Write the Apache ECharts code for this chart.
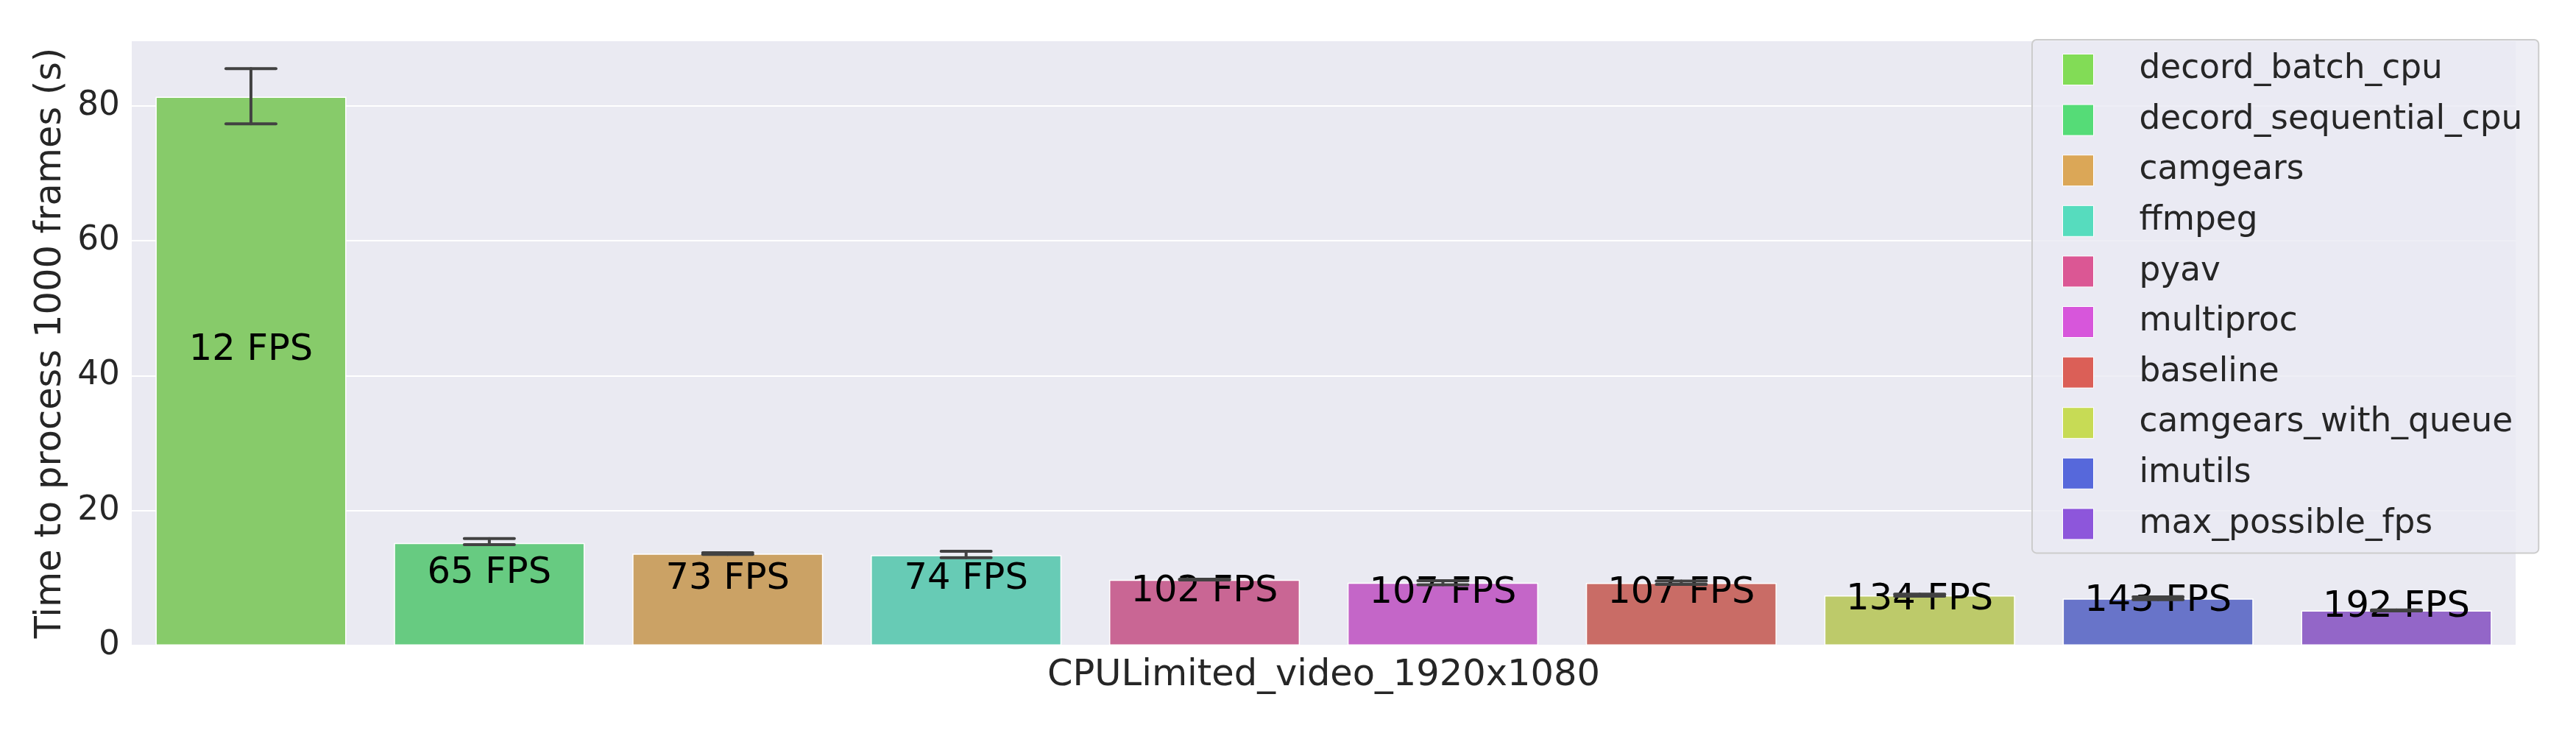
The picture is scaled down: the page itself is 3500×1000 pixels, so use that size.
<!DOCTYPE html>
<html>
<head>
<meta charset="utf-8">
<script src="https://cdn.jsdelivr.net/npm/echarts@6/dist/echarts.min.js"></script>
<style>
html,body{margin:0;padding:0;background:#fff;}
#chart{width:3500px;height:1000px;}
</style>
</head>
<body>
<div id="chart"></div>
<script>
// ---- data ----
const categories = ['decord_batch_cpu','decord_sequential_cpu','camgears','ffmpeg','pyav','multiproc','baseline','camgears_with_queue','imutils','max_possible_fps'];
const times   = [81.35, 15.2, 13.6, 13.4, 9.75, 9.3, 9.28, 7.43, 6.97, 5.19];
const errLow  = [77.35, 14.95, 13.5, 13.0, 9.7, 9.0, 9.05, 7.3, 6.8, 5.12];
const errHigh = [85.53, 15.85, 13.75, 13.96, 9.82, 9.6, 9.55, 7.6, 7.2, 5.26];
const fpsLabels = ['12 FPS','65 FPS','73 FPS','74 FPS','102 FPS','107 FPS','107 FPS','134 FPS','143 FPS','192 FPS'];
const yTicks = [0, 20, 40, 60, 80];
const xGroupLabel = 'CPULimited_video_1920x1080';
const yTitle = 'Time to process 1000 frames (s)';

const barColors = ['#87CB6A','#67CB81','#CBA265','#67CBB5','#C96694','#C466C8','#C96C66','#BDCA6A','#6874C9','#9366C8'];
const legendColors = ['#82DC56','#55DC77','#DBA757','#56DCBE','#DB5794','#D756DB','#DB5F57','#C7DB55','#5668DB','#8D56DB'];

const FONT = 'DejaVu Sans';
const chart = echarts.init(document.getElementById('chart'), null, {renderer:'canvas'});

const barSeries = categories.map((name, i) => ({
  name: name,
  type: 'bar',
  stack: 'all',
  barWidth: '80%',
  data: categories.map((c, j) => j === i ? times[j] : '-'),
  itemStyle: {color: barColors[i], borderColor: '#ffffff', borderWidth: 1.5},
  label: {
    show: true,
    position: 'inside',
    offset: [0, -28],
    formatter: () => fpsLabels[i],
    fontFamily: FONT,
    fontSize: 49.5,
    color: '#000000'
  },
  emphasis: {disabled: true},
  z: 2
}));

const errSeries = {
  type: 'custom',
  name: 'err',
  z: 5,
  data: categories.map((c, i) => [i, errLow[i], errHigh[i]]),
  renderItem: function (params, api) {
    const x = api.value(0);
    const lo = api.coord([x, api.value(1)]);
    const hi = api.coord([x, api.value(2)]);
    const half = api.size([1, 0])[0] * 0.105;
    const style = {stroke: '#424242', lineWidth: 4, lineCap: 'round'};
    return {
      type: 'group',
      children: [
        {type: 'line', shape: {x1: lo[0], y1: lo[1], x2: hi[0], y2: hi[1]}, style: style},
        {type: 'line', shape: {x1: lo[0]-half, y1: lo[1], x2: lo[0]+half, y2: lo[1]}, style: style},
        {type: 'line', shape: {x1: hi[0]-half, y1: hi[1], x2: hi[0]+half, y2: hi[1]}, style: style}
      ]
    };
  },
  silent: true
};

chart.setOption({
  animation: false,
  backgroundColor: '#ffffff',
  grid: {left: 179, right: 82, top: 55, bottom: 123, show: true, backgroundColor: '#EAEAF2', borderWidth: 0},
  legend: {
    orient: 'vertical',
    left: 2761,
    top: 54,
    padding: [18, 22, 17, 41],
    itemWidth: 42,
    itemHeight: 42,
    itemGap: 23.6,
    icon: 'rect',
    backgroundColor: 'rgba(234,234,242,0.8)',
    borderColor: '#cccccc',
    borderWidth: 2,
    borderRadius: 6,
    textStyle: {fontFamily: FONT, fontSize: 45.4, color: '#262626', padding: [0, 0, 0, 57], lineHeight: 42},
    data: categories.map((n, i) => ({name: n, itemStyle: {color: legendColors[i], borderColor: '#ffffff', borderWidth: 1}}))
  },
  xAxis: {
    type: 'category',
    data: categories,
    axisLine: {show: false},
    axisTick: {show: false},
    axisLabel: {show: false},
    splitLine: {show: false},
    name: xGroupLabel,
    nameLocation: 'middle',
    nameGap: 16,
    nameTextStyle: {fontFamily: FONT, fontSize: 49.5, color: '#262626'}
  },
  yAxis: {
    type: 'value',
    min: 0,
    max: 89.7,
    interval: 20,
    axisLine: {show: false},
    axisTick: {show: false},
    axisLabel: {
      fontFamily: FONT, fontSize: 45.4, color: '#262626', margin: 16,
      formatter: v => yTicks.includes(v) ? String(v) : ''
    },
    splitLine: {show: true, lineStyle: {color: '#ffffff', width: 2}},
    name: yTitle,
    nameLocation: 'middle',
    nameGap: 58,
    nameTextStyle: {fontFamily: FONT, fontSize: 49.5, color: '#262626'}
  },
  series: barSeries.concat([errSeries])
});
</script>
</body>
</html>
